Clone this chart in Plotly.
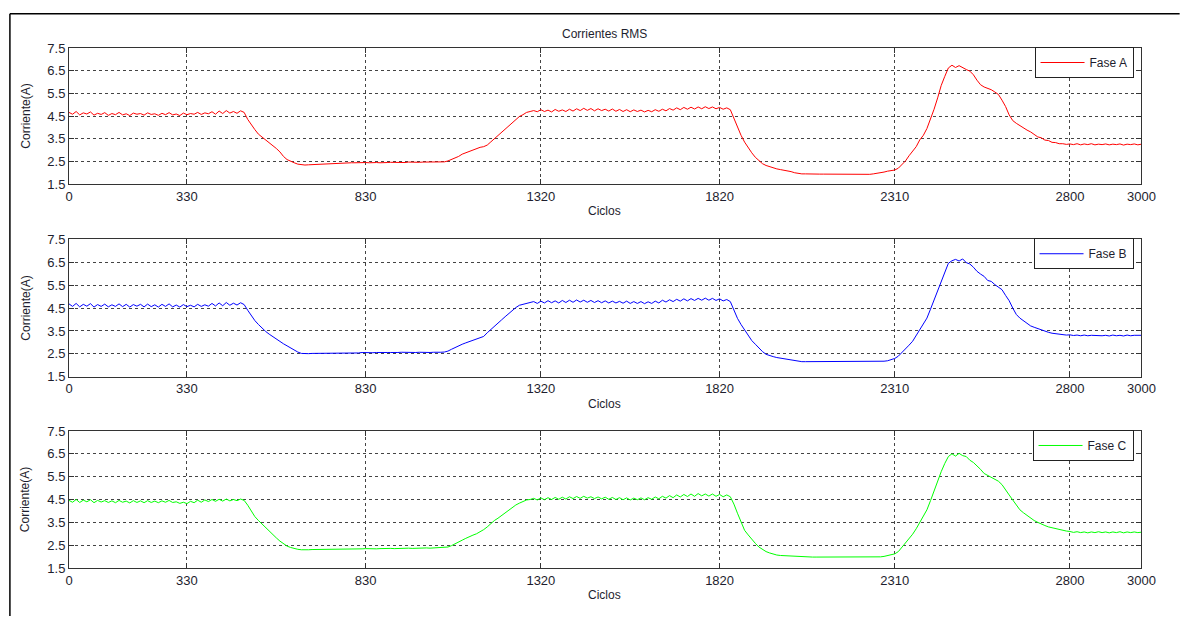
import numpy as np
import plotly.graph_objects as go

# ---------------- data ----------------
ciclos = list(range(0, 3001, 10))

fase_a = [
    4.66, 4.58, 4.70, 4.55, 4.64, 4.59, 4.68, 4.54, 4.62, 4.57,
    4.65, 4.53, 4.61, 4.56, 4.66, 4.55, 4.60, 4.52, 4.63, 4.58,
    4.61, 4.54, 4.64, 4.57, 4.60, 4.53, 4.62, 4.56, 4.65, 4.55,
    4.59, 4.52, 4.63, 4.56, 4.61, 4.58, 4.66, 4.57, 4.64, 4.60,
    4.69, 4.58, 4.72, 4.61, 4.74, 4.63, 4.70, 4.62, 4.73, 4.66,
    4.35, 4.10, 3.90, 3.70, 3.58, 3.45, 3.32, 3.18, 3.07, 2.92,
    2.72, 2.58, 2.50, 2.44, 2.38, 2.35, 2.34, 2.35, 2.36, 2.36,
    2.37, 2.38, 2.38, 2.39, 2.40, 2.41, 2.41, 2.42, 2.43, 2.44,
    2.44, 2.45, 2.43, 2.45, 2.44, 2.46, 2.45, 2.44, 2.46, 2.45,
    2.46, 2.45, 2.47, 2.46, 2.45, 2.47, 2.46, 2.47, 2.46, 2.47,
    2.47, 2.46, 2.47, 2.46, 2.47, 2.48, 2.52, 2.58, 2.65, 2.72,
    2.82, 2.88, 2.96, 3.02, 3.08, 3.12, 3.15, 3.22, 3.36, 3.50,
    3.66, 3.80, 3.95, 4.10, 4.22, 4.34, 4.48, 4.56, 4.66, 4.70,
    4.74, 4.69, 4.78, 4.70, 4.76, 4.68, 4.79, 4.71, 4.77, 4.70,
    4.80, 4.72, 4.82, 4.74, 4.84, 4.75, 4.83, 4.73, 4.82, 4.74,
    4.80, 4.72, 4.81, 4.71, 4.79, 4.70, 4.78, 4.69, 4.77, 4.70,
    4.76, 4.68, 4.75, 4.69, 4.78, 4.71, 4.80, 4.73, 4.83, 4.76,
    4.86, 4.78, 4.88, 4.80, 4.89, 4.81, 4.90, 4.82, 4.91, 4.83,
    4.90, 4.82, 4.88, 4.80, 4.86, 4.78, 4.40, 4.00, 3.65, 3.35,
    3.10, 2.88, 2.68, 2.52, 2.40, 2.32, 2.26, 2.21, 2.17, 2.14,
    2.12, 2.10, 2.05, 2.00, 1.97, 1.95, 1.95, 1.94, 1.94, 1.94,
    1.94, 1.94, 1.94, 1.93, 1.94, 1.94, 1.94, 1.93, 1.94, 1.94,
    1.93, 1.92, 1.91, 1.92, 1.93, 1.95, 1.97, 2.00, 2.03, 2.07,
    2.10, 2.12, 2.20, 2.35, 2.52, 2.75, 2.95, 3.15, 3.45, 3.65,
    3.95, 4.35, 4.80, 5.30, 5.85, 6.25, 6.62, 6.74, 6.64, 6.72,
    6.62, 6.55, 6.48, 6.32, 6.08, 5.88, 5.78, 5.72, 5.66, 5.56,
    5.45, 5.20, 4.92, 4.55, 4.30, 4.18, 4.08, 3.96, 3.88, 3.80,
    3.70, 3.58, 3.54, 3.44, 3.42, 3.34, 3.33, 3.28, 3.28, 3.25,
    3.27, 3.24, 3.28, 3.23, 3.27, 3.24, 3.28, 3.23, 3.26, 3.24,
    3.27, 3.23, 3.26, 3.24, 3.27, 3.22, 3.26, 3.24, 3.27, 3.23,
    3.26,
]

fase_b = [
    4.68, 4.57, 4.70, 4.55, 4.66, 4.58, 4.69, 4.54, 4.65, 4.57,
    4.67, 4.55, 4.64, 4.57, 4.68, 4.56, 4.66, 4.54, 4.65, 4.58,
    4.66, 4.55, 4.67, 4.56, 4.64, 4.54, 4.66, 4.57, 4.68, 4.55,
    4.63, 4.54, 4.65, 4.56, 4.62, 4.55, 4.66, 4.57, 4.64, 4.58,
    4.70, 4.59, 4.72, 4.60, 4.74, 4.62, 4.71, 4.63, 4.73, 4.65,
    4.40, 4.15, 3.95, 3.78, 3.62, 3.48, 3.36, 3.25, 3.12, 3.02,
    2.94, 2.85, 2.75, 2.66, 2.58, 2.52, 2.50, 2.51, 2.52, 2.52,
    2.53, 2.52, 2.54, 2.53, 2.54, 2.55, 2.54, 2.55, 2.54, 2.55,
    2.55, 2.54, 2.56, 2.55, 2.56, 2.55, 2.56, 2.55, 2.56, 2.56,
    2.56, 2.55, 2.56, 2.57, 2.56, 2.56, 2.57, 2.56, 2.57, 2.56,
    2.57, 2.56, 2.57, 2.56, 2.57, 2.58, 2.62, 2.70, 2.78, 2.86,
    2.92, 2.98, 3.04, 3.10, 3.16, 3.20, 3.26, 3.42, 3.55, 3.68,
    3.82, 3.98, 4.12, 4.26, 4.40, 4.52, 4.62, 4.66, 4.72, 4.74,
    4.78, 4.70, 4.80, 4.72, 4.82, 4.73, 4.81, 4.72, 4.83, 4.74,
    4.84, 4.75, 4.85, 4.76, 4.84, 4.75, 4.83, 4.74, 4.82, 4.73,
    4.81, 4.72, 4.80, 4.72, 4.79, 4.71, 4.80, 4.70, 4.78, 4.70,
    4.78, 4.69, 4.77, 4.70, 4.80, 4.72, 4.84, 4.76, 4.86, 4.78,
    4.88, 4.80, 4.90, 4.81, 4.91, 4.83, 4.92, 4.84, 4.93, 4.84,
    4.92, 4.83, 4.90, 4.81, 4.87, 4.78, 4.40, 4.05, 3.78, 3.55,
    3.30, 3.08, 2.92, 2.75, 2.60, 2.48, 2.42, 2.38, 2.34, 2.31,
    2.29, 2.26, 2.22, 2.19, 2.17, 2.16, 2.16, 2.16, 2.15, 2.16,
    2.16, 2.15, 2.16, 2.16, 2.15, 2.16, 2.16, 2.15, 2.16, 2.16,
    2.16, 2.15, 2.16, 2.16, 2.15, 2.16, 2.16, 2.17, 2.18, 2.20,
    2.24, 2.30, 2.40, 2.55, 2.72, 2.88, 3.05, 3.30, 3.55, 3.80,
    4.06, 4.45, 4.85, 5.30, 5.72, 6.10, 6.45, 6.56, 6.62, 6.55,
    6.64, 6.48, 6.42, 6.28, 6.10, 5.98, 5.88, 5.70, 5.66, 5.52,
    5.42, 5.30, 5.05, 4.82, 4.50, 4.22, 4.06, 3.95, 3.80, 3.72,
    3.66, 3.60, 3.54, 3.49, 3.44, 3.40, 3.38, 3.35, 3.34, 3.32,
    3.33, 3.30, 3.32, 3.29, 3.32, 3.29, 3.31, 3.30, 3.32, 3.29,
    3.31, 3.28, 3.32, 3.29, 3.31, 3.28, 3.32, 3.29, 3.31, 3.30,
    3.31,
]

fase_c = [
    4.46, 4.38, 4.50, 4.37, 4.47, 4.40, 4.49, 4.36, 4.46, 4.39,
    4.45, 4.37, 4.44, 4.36, 4.46, 4.38, 4.43, 4.35, 4.45, 4.37,
    4.44, 4.36, 4.45, 4.37, 4.43, 4.36, 4.44, 4.38, 4.46, 4.37,
    4.40, 4.33, 4.38, 4.32, 4.42, 4.36, 4.47, 4.38, 4.48, 4.41,
    4.50, 4.42, 4.51, 4.43, 4.52, 4.44, 4.50, 4.45, 4.52, 4.46,
    4.25, 4.00, 3.75, 3.58, 3.42, 3.28, 3.14, 2.98, 2.82, 2.68,
    2.55, 2.46, 2.40, 2.35, 2.32, 2.30, 2.29, 2.30, 2.31, 2.31,
    2.32, 2.31, 2.32, 2.33, 2.32, 2.33, 2.33, 2.34, 2.33, 2.34,
    2.34, 2.33, 2.34, 2.35, 2.34, 2.35, 2.34, 2.35, 2.36, 2.35,
    2.36, 2.35, 2.36, 2.37, 2.36, 2.37, 2.36, 2.37, 2.38, 2.37,
    2.38, 2.37, 2.38, 2.38, 2.39, 2.39, 2.42, 2.48, 2.55, 2.62,
    2.72, 2.80, 2.88, 2.94, 3.00, 3.08, 3.18, 3.30, 3.45, 3.58,
    3.68, 3.80, 3.92, 4.04, 4.16, 4.26, 4.34, 4.42, 4.48, 4.50,
    4.55, 4.48, 4.57, 4.49, 4.58, 4.50, 4.59, 4.51, 4.60, 4.52,
    4.62, 4.54, 4.63, 4.55, 4.64, 4.56, 4.62, 4.54, 4.61, 4.53,
    4.60, 4.51, 4.59, 4.50, 4.58, 4.49, 4.57, 4.48, 4.56, 4.49,
    4.57, 4.49, 4.58, 4.51, 4.61, 4.53, 4.64, 4.56, 4.67, 4.58,
    4.70, 4.61, 4.72, 4.63, 4.74, 4.64, 4.76, 4.66, 4.74, 4.65,
    4.74, 4.64, 4.72, 4.62, 4.70, 4.62, 4.30, 3.90, 3.50, 3.15,
    2.95, 2.75, 2.58, 2.42, 2.30, 2.22, 2.16, 2.10, 2.07, 2.05,
    2.04, 2.03, 2.01, 2.00, 1.99, 1.98, 1.98, 1.97, 1.98, 1.98,
    1.98, 1.97, 1.98, 1.98, 1.97, 1.98, 1.98, 1.97, 1.98, 1.98,
    1.98, 1.97, 1.98, 1.98, 1.97, 1.98, 1.98, 1.99, 2.01, 2.04,
    2.08, 2.12, 2.22, 2.40, 2.60, 2.78, 2.98, 3.22, 3.48, 3.75,
    4.05, 4.45, 4.88, 5.32, 5.72, 6.08, 6.38, 6.50, 6.40, 6.52,
    6.42, 6.38, 6.22, 6.12, 5.98, 5.82, 5.64, 5.56, 5.46, 5.38,
    5.30, 5.15, 4.95, 4.70, 4.48, 4.25, 4.05, 3.92, 3.80, 3.68,
    3.58, 3.50, 3.42, 3.36, 3.30, 3.26, 3.22, 3.18, 3.14, 3.12,
    3.10, 3.06, 3.09, 3.05, 3.08, 3.04, 3.08, 3.05, 3.09, 3.05,
    3.08, 3.04, 3.08, 3.05, 3.09, 3.04, 3.08, 3.05, 3.08, 3.05,
    3.07,
]

x_ticks = [0, 330, 830, 1320, 1820, 2310, 2800, 3000]
y_ticks = [1.5, 2.5, 3.5, 4.5, 5.5, 6.5, 7.5]
series_names = ["Fase A", "Fase B", "Fase C"]
series_colors = ["#ff0000", "#0000ff", "#00ff00"]
title_text = "Corrientes RMS"
x_label = "Ciclos"
y_label = "Corriente(A)"

# ---------------- layout geometry ----------------
W, H = 1182, 618


def px(x):
    return x / W


def py(y):
    return 1 - y / H


xdom = [px(66), px(1155)]
panels_px = [(42, 181.5), (238, 379), (434.5, 575)]
FONT = "Liberation Sans, Arial, sans-serif"
TXT = "#1e1e2e"

fig = go.Figure()
layout = dict(
    width=W, height=H,
    margin=dict(l=0, r=0, t=0, b=0),
    paper_bgcolor="white", plot_bgcolor="white",
    font=dict(family=FONT, size=13, color=TXT),
    showlegend=True,
)

annotations = [
    dict(text=title_text, x=px(610), y=py(28), xref="paper", yref="paper",
         showarrow=False, font=dict(size=12, color=TXT), xanchor="center", yanchor="middle"),
]
shapes = [
    dict(type="line", xref="paper", yref="paper", x0=px(6), x1=1.01, y0=py(7), y1=py(7),
         line=dict(color="black", width=1.5)),
    dict(type="line", xref="paper", yref="paper", x0=px(6), x1=px(6), y0=-0.01, y1=py(7),
         line=dict(color="black", width=1.5)),
]

data_list = [fase_a, fase_b, fase_c]
for i, (top, bot) in enumerate(panels_px):
    n = "" if i == 0 else str(i + 1)
    ydom = [py(bot), py(top)]
    leg = "legend" if i == 0 else f"legend{i + 1}"
    fig.add_trace(go.Scatter(
        x=ciclos, y=data_list[i], mode="lines", name=series_names[i],
        line=dict(color=series_colors[i], width=1),
        xaxis="x" + n, yaxis="y" + n, legend=leg,
    ))
    common = dict(
        showline=True, linecolor="#333", linewidth=1, mirror="ticks",
        ticks="inside", ticklen=5, tickcolor="#333",
        showgrid=True, gridcolor="#444", gridwidth=1, griddash="3px,3px",
        zeroline=False, tickfont=dict(size=13, color=TXT),
    )
    layout["xaxis" + n] = dict(
        domain=xdom, anchor="y" + n, range=[0, 3000],
        tickmode="array", tickvals=x_ticks, ticktext=[str(v) for v in x_ticks],
        **common,
    )
    layout["yaxis" + n] = dict(
        domain=ydom, anchor="x" + n, range=[1.5, 7.5],
        tickmode="array", tickvals=y_ticks, ticktext=[f"{v:.1f}" for v in y_ticks],
        **common,
    )
    layout[leg] = dict(
        x=px(1147), y=py(top - 1), xanchor="right", yanchor="top",
        bordercolor="#222", borderwidth=1, bgcolor="white",
        font=dict(size=12, color=TXT), itemwidth=44,
        xref="paper", yref="paper",
    )
    annotations.append(dict(text=x_label, x=px(610), y=py(bot + 27.5), xref="paper", yref="paper",
                            showarrow=False, font=dict(size=12, color=TXT),
                            xanchor="center", yanchor="middle"))
    annotations.append(dict(text=y_label, x=px(22), y=py((top + bot) / 2), xref="paper", yref="paper",
                            showarrow=False, textangle=-90, font=dict(size=12, color=TXT),
                            xanchor="center", yanchor="middle"))

layout["annotations"] = annotations
layout["shapes"] = shapes
fig.update_layout(**layout)

fig.write_html("out.html")
